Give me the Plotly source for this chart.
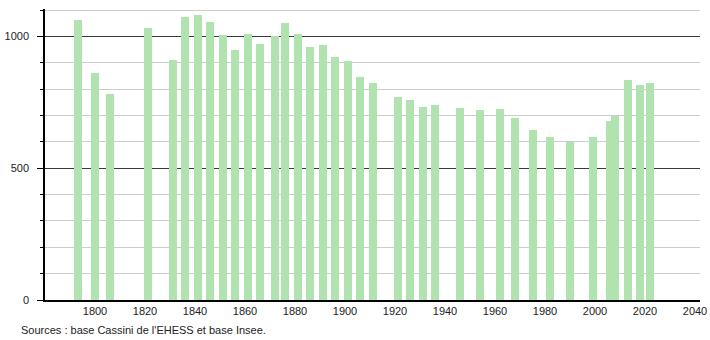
import plotly.graph_objects as go

years = [1793, 1800, 1806, 1821, 1831, 1836, 1841, 1846, 1851, 1856, 1861, 1866,
         1872, 1876, 1881, 1886, 1891, 1896, 1901, 1906, 1911, 1921, 1926, 1931,
         1936, 1946, 1954, 1962, 1968, 1975, 1982, 1990, 1999, 2006, 2008, 2013,
         2018, 2022]
population = [1063, 861, 782, 1032, 911, 1074, 1082, 1055, 1006, 949, 1009, 972,
              1002, 1051, 1009, 960, 968, 922, 907, 846, 824, 770, 759, 732,
              740, 730, 721, 725, 691, 645, 619, 600, 619, 679, 698, 835,
              817, 824]
x_ticks = [1800, 1820, 1840, 1860, 1880, 1900, 1920, 1940, 1960, 1980, 2000, 2020, 2040]
y_ticks = [0, 500, 1000]
source_text = "Sources : base Cassini de l'EHESS et base Insee."

FONT = "Liberation Sans, Arial, sans-serif"

fig = go.Figure()
fig.add_trace(go.Bar(
    x=years, y=population, width=3.2,
    marker=dict(color="#b1e3b1", line=dict(width=0)),
    hoverinfo="x+y",
))

fig.update_layout(
    width=710, height=340,
    margin=dict(l=45, r=10, t=9, b=40),
    plot_bgcolor="white", paper_bgcolor="white",
    showlegend=False, bargap=0,
    font=dict(family=FONT, size=11, color="#222222"),
    xaxis=dict(
        range=[1780, 2042], tickvals=x_ticks, ticks="", showgrid=False,
        showline=True, linecolor="black", linewidth=1.5, zeroline=False,
        automargin=False,
        tickfont=dict(family=FONT, size=11, color="#222222"),
    ),
    yaxis=dict(
        range=[0, 1104], tickvals=y_ticks, ticks="outside", ticklen=6,
        tickcolor="black", showgrid=True, gridcolor="#3a3a3a", gridwidth=1,
        showline=True, linecolor="black",
        linewidth=1.5, zeroline=False, ticklabelstandoff=6, automargin=False,
        tickfont=dict(family=FONT, size=11, color="#222222"),
        minor=dict(dtick=100, tick0=0, ticks="outside", ticklen=3, tickcolor="black",
                   showgrid=True, gridcolor="#cccccc", gridwidth=1),
    ),
    annotations=[dict(
        text=source_text, xref="paper", yref="paper",
        x=-0.04, y=-0.103, xanchor="left", yanchor="middle", showarrow=False,
        font=dict(family=FONT, size=11, color="#222222"),
    )],
)

fig.write_html("out.html")
